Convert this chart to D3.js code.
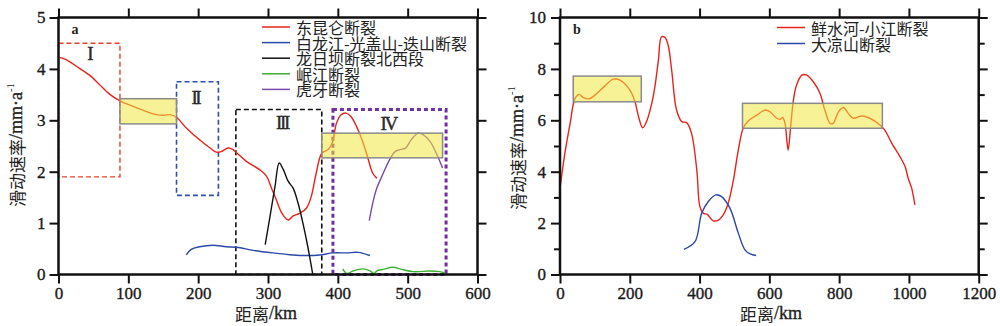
<!DOCTYPE html>
<html><head><meta charset="utf-8">
<script src="https://cdn.jsdelivr.net/npm/d3@7/dist/d3.min.js"></script>
<style>body{margin:0;background:#fff}svg{display:block}</style>
</head><body><svg id="c" width="1000" height="326"></svg>
<script>
// ---------- Panel a data ----------
const aXTicks = [0,100,200,300,400,500,600];
const aYTicks = [0,1,2,3,4,5];
const aLegend = ["东昆仑断裂","白龙江-光盖山-迭山断裂","龙日坝断裂北西段","岷江断裂","虎牙断裂"];
const dongkunlun = [[0,4.23],[11,4.18],[30,4.01],[47,3.85],[59,3.69],[73,3.51],[88,3.38],[107,3.27],[126,3.17],[140,3.11],[152,3.10],[159,3.11],[169,3.06],[183,2.85],[202,2.62],[217,2.46],[226,2.38],[233,2.39],[243,2.46],[250,2.43],[255,2.37],[269,2.20],[288,2.04],[298,1.91],[305,1.68],[312,1.45],[320,1.19],[329,1.06],[336,1.14],[345,1.19],[355,1.29],[362,1.52],[369,1.97],[377,2.36],[386,2.43],[392,2.56],[398,2.94],[404,3.10],[412,3.14],[419,3.07],[431,2.75],[441,2.36],[450,1.97],[456,1.87]];
const bailongjiang = [[183,0.38],[190,0.49],[202,0.54],[221,0.57],[240,0.54],[255,0.53],[279,0.47],[307,0.42],[336,0.38],[355,0.37],[374,0.38],[393,0.42],[412,0.42],[429,0.43],[446,0.37]];
const longriba = [[296,0.58],[302,1.06],[310,1.71],[316,2.17],[322,2.04],[329,1.81],[336,1.68],[343,1.39],[350,1.00],[357,0.54],[364,0.01]];
const minjiang = [[407,0.11],[413,0.02],[422,0.07],[436,0.11],[446,0.07],[452,0.02],[456,0.07],[465,0.10],[479,0.14],[491,0.10],[508,0.055],[532,0.068],[546,0.055],[553,0.035]];
const huya = [[445,1.05],[450,1.39],[455,1.65],[465,1.97],[474,2.23],[482,2.39],[489,2.43],[497,2.46],[505,2.62],[515,2.75],[522,2.72],[532,2.59],[541,2.36],[550,2.07]];
// zones: [x0,x1,y0,y1,label,labelX,labelY]
const aZones = [[0,88,1.9,4.5,"I",44,4.3],[169,229,1.54,3.75,"II",196,3.45],[254,377,0,3.21,"III",320,2.95],[393,555,0,3.21,"IV",472,2.93]];
const aYellow = [[88,169,2.93,3.42],[377,550,2.27,2.75]];

// ---------- Panel b data ----------
const bXTicks = [0,200,400,600,800,1000,1200];
const bYTicks = [0,2,4,6,8,10];
const bYMinor = [1,3,5,7,9];
const bLegend = ["鲜水河-小江断裂","大凉山断裂"];
const xianshuihe = [[0,3.35],[14,4.72],[29,5.88],[43,6.85],[55,7.01],[67,6.88],[84,6.84],[100,6.98],[124,7.28],[153,7.60],[172,7.56],[200,7.18],[215,6.72],[224,6.20],[237,5.71],[248,5.95],[263,6.66],[272,7.31],[282,8.34],[291,9.25],[301,9.22],[310,8.92],[320,7.95],[334,6.40],[349,5.95],[363,5.91],[377,5.49],[392,4.07],[401,2.64],[411,2.38],[422,2.34],[439,2.09],[454,2.12],[468,2.32],[482,2.77],[497,3.68],[511,4.84],[525,5.69],[540,5.98],[564,6.20],[588,6.40],[602,6.33],[621,6.08],[631,6.04],[638,6.11],[645,5.88],[650,5.23],[654,4.84],[661,5.75],[669,6.79],[678,7.37],[693,7.76],[707,7.76],[726,7.50],[745,7.05],[759,6.40],[774,5.88],[783,5.88],[798,6.33],[812,6.50],[826,6.27],[841,6.08],[865,6.17],[888,6.08],[917,5.82],[931,5.62],[951,5.10],[974,4.59],[989,4.20],[998,3.74],[1008,3.35],[1017,2.71]];
const daliangshan = [[355,0.98],[387,1.28],[406,2.38],[425,2.84],[447,3.10],[463,3.03],[487,2.58],[511,1.61],[530,0.96],[545,0.80],[562,0.74]];
const bYellow = [[38,233,6.72,7.72],[523,924,5.69,6.66]];

const svg = d3.select("#c");
const NUM_FONT = "'Liberation Serif', 'DejaVu Serif', serif";
const CJK_FONT = "'Noto Sans CJK SC', 'Noto Sans CJK JP', sans-serif";

function panel(o) {
  const x = d3.scaleLinear().domain(o.xd).range([o.l, o.r]);
  const y = d3.scaleLinear().domain(o.yd).range([o.b, o.t]);
  const g = svg.append("g");
  const line = d3.line().x(d => x(d[0])).y(d => y(d[1])).curve(d3.curveCatmullRom.alpha(0.5));

  function styleAxis(sel, labels) {
    sel.select(".domain").remove();
    sel.selectAll(".tick line").attr("stroke", "#111").attr("stroke-width", 2);
    sel.selectAll(".tick text").attr("font-family", NUM_FONT).attr("font-size", 17).attr("fill", "#1a1a1a")
      .attr("stroke", "#1a1a1a").attr("stroke-width", 0.35);
    if (!labels) sel.selectAll(".tick text").remove();
  }
  const ts = 9;
  g.append("g").attr("transform", `translate(0,${o.b})`).call(d3.axisBottom(x).tickValues(o.xt).tickSize(ts).tickPadding(3).tickFormat(d3.format("d"))).call(s => styleAxis(s, true));
  g.append("g").attr("transform", `translate(0,${o.t})`).call(d3.axisTop(x).tickValues(o.xt).tickSize(ts)).call(s => styleAxis(s, false));
  g.append("g").attr("transform", `translate(${o.l},0)`).call(d3.axisLeft(y).tickValues(o.yt).tickSize(ts).tickPadding(o.ypad).tickFormat(d3.format("d"))).call(s => styleAxis(s, true));
  g.append("g").attr("transform", `translate(${o.r},0)`).call(d3.axisRight(y).tickValues(o.yt).tickSize(ts)).call(s => styleAxis(s, false));
  if (o.minor) {
    g.append("g").attr("transform", `translate(${o.l},0)`).call(d3.axisLeft(y).tickValues(o.minor).tickSize(6)).call(s => styleAxis(s, false));
    g.append("g").attr("transform", `translate(${o.r},0)`).call(d3.axisRight(y).tickValues(o.minor).tickSize(6)).call(s => styleAxis(s, false));
  }

  (o.zones || []).forEach((z, i) => {
    const c = o.zoneStyle[i];
    g.append("rect").attr("x", x(z[0])).attr("y", y(z[3])).attr("width", x(z[1]) - x(z[0])).attr("height", y(z[2]) - y(z[3]))
      .attr("fill", "none").attr("stroke", c.color).attr("stroke-width", c.w).attr("stroke-dasharray", c.dash);
    g.append("text").attr("x", x(z[5])).attr("y", y(z[6])).attr("text-anchor", "middle").attr("dominant-baseline", "central")
      .attr("font-family", NUM_FONT).attr("font-size", 19).attr("letter-spacing", -2.4).attr("fill", "#2a2a2a")
      .attr("stroke", "#2a2a2a").attr("stroke-width", 0.4).text(z[4]);
  });

  o.series.forEach(s => {
    g.append("path").datum(s.data).attr("d", line).attr("fill", "none").attr("stroke", s.color).attr("stroke-width", 1.4);
  });

  o.yellow.forEach(b => {
    g.append("rect").attr("x", x(b[0])).attr("y", y(b[3])).attr("width", x(b[1]) - x(b[0])).attr("height", y(b[2]) - y(b[3]))
      .attr("fill", "#f0e840").attr("fill-opacity", 0.55).attr("stroke", "#8a8a8a").attr("stroke-width", 1.5);
  });

  g.append("rect").attr("x", o.l).attr("y", o.t).attr("width", o.r - o.l).attr("height", o.b - o.t)
    .attr("fill", "none").attr("stroke", "#111").attr("stroke-width", 2.5);

  o.legend.forEach((t, i) => {
    const yy = o.legY + i * o.legDy;
    g.append("line").attr("x1", o.legX).attr("x2", o.legX + 28).attr("y1", yy).attr("y2", yy).attr("stroke", o.series[i].color).attr("stroke-width", 1.5);
    g.append("text").attr("x", o.legX + 34).attr("y", yy).attr("dominant-baseline", "central").attr("font-family", CJK_FONT)
      .attr("font-size", 16).attr("fill", "#222").text(t);
  });

  g.append("text").attr("x", o.l + 13).attr("y", o.t + 12).attr("dominant-baseline", "central").attr("font-family", NUM_FONT)
    .attr("font-weight", "bold").attr("font-size", 14).attr("fill", "#222").text(o.letter);

  const xt = g.append("text").attr("x", o.xtX).attr("y", 313).attr("text-anchor", "middle").attr("dominant-baseline", "central")
    .attr("font-size", 17).attr("fill", "#222");
  xt.append("tspan").attr("font-family", CJK_FONT).text("距离");
  xt.append("tspan").attr("font-family", NUM_FONT).attr("font-size", 18).attr("stroke", "#222").attr("stroke-width", 0.35).text("/km");

  const yt = g.append("text").attr("transform", `translate(${o.ytX},${o.ytY}) rotate(-90)`).attr("text-anchor", "middle")
    .attr("dominant-baseline", "central").attr("font-size", 17).attr("fill", "#222");
  yt.append("tspan").attr("font-family", CJK_FONT).text("滑动速率");
  yt.append("tspan").attr("font-family", NUM_FONT).attr("font-size", 18).attr("stroke", "#222").attr("stroke-width", 0.35).text("/mm·a");
  yt.append("tspan").attr("font-family", NUM_FONT).attr("dy", -6).attr("font-size", 11).text("-1");
}

panel({
  l: 58.5, r: 477.5, t: 17.5, b: 274.5, xd: [0, 600], yd: [0, 5], xt: aXTicks, yt: aYTicks, ypad: 4,
  zones: aZones,
  zoneStyle: [{color: "#e8402a", w: 1.4, dash: "5,3"}, {color: "#3050b0", w: 1.6, dash: "5,3"}, {color: "#111", w: 1.6, dash: "5,3"}, {color: "#7030a0", w: 3, dash: "4,3"}],
  series: [{data: dongkunlun, color: "#e8231c"}, {data: bailongjiang, color: "#2a48a8"}, {data: longriba, color: "#111"}, {data: minjiang, color: "#3cb030"}, {data: huya, color: "#7a4aa8"}],
  yellow: aYellow, legend: aLegend, legX: 262, legY: 27, legDy: 15.6, letter: "a",
  xtX: 266, ytX: 16, ytY: 145
});
panel({
  l: 560, r: 978.7, t: 17.5, b: 274.5, xd: [0, 1200], yd: [0, 10], xt: bXTicks, yt: bYTicks, minor: bYMinor, ypad: 5,
  zones: [], zoneStyle: [],
  series: [{data: xianshuihe, color: "#e8231c"}, {data: daliangshan, color: "#2a48a8"}],
  yellow: bYellow, legend: bLegend, legX: 777, legY: 27.5, legDy: 16, letter: "b",
  xtX: 771, ytX: 517, ytY: 148
});
</script></body></html>
